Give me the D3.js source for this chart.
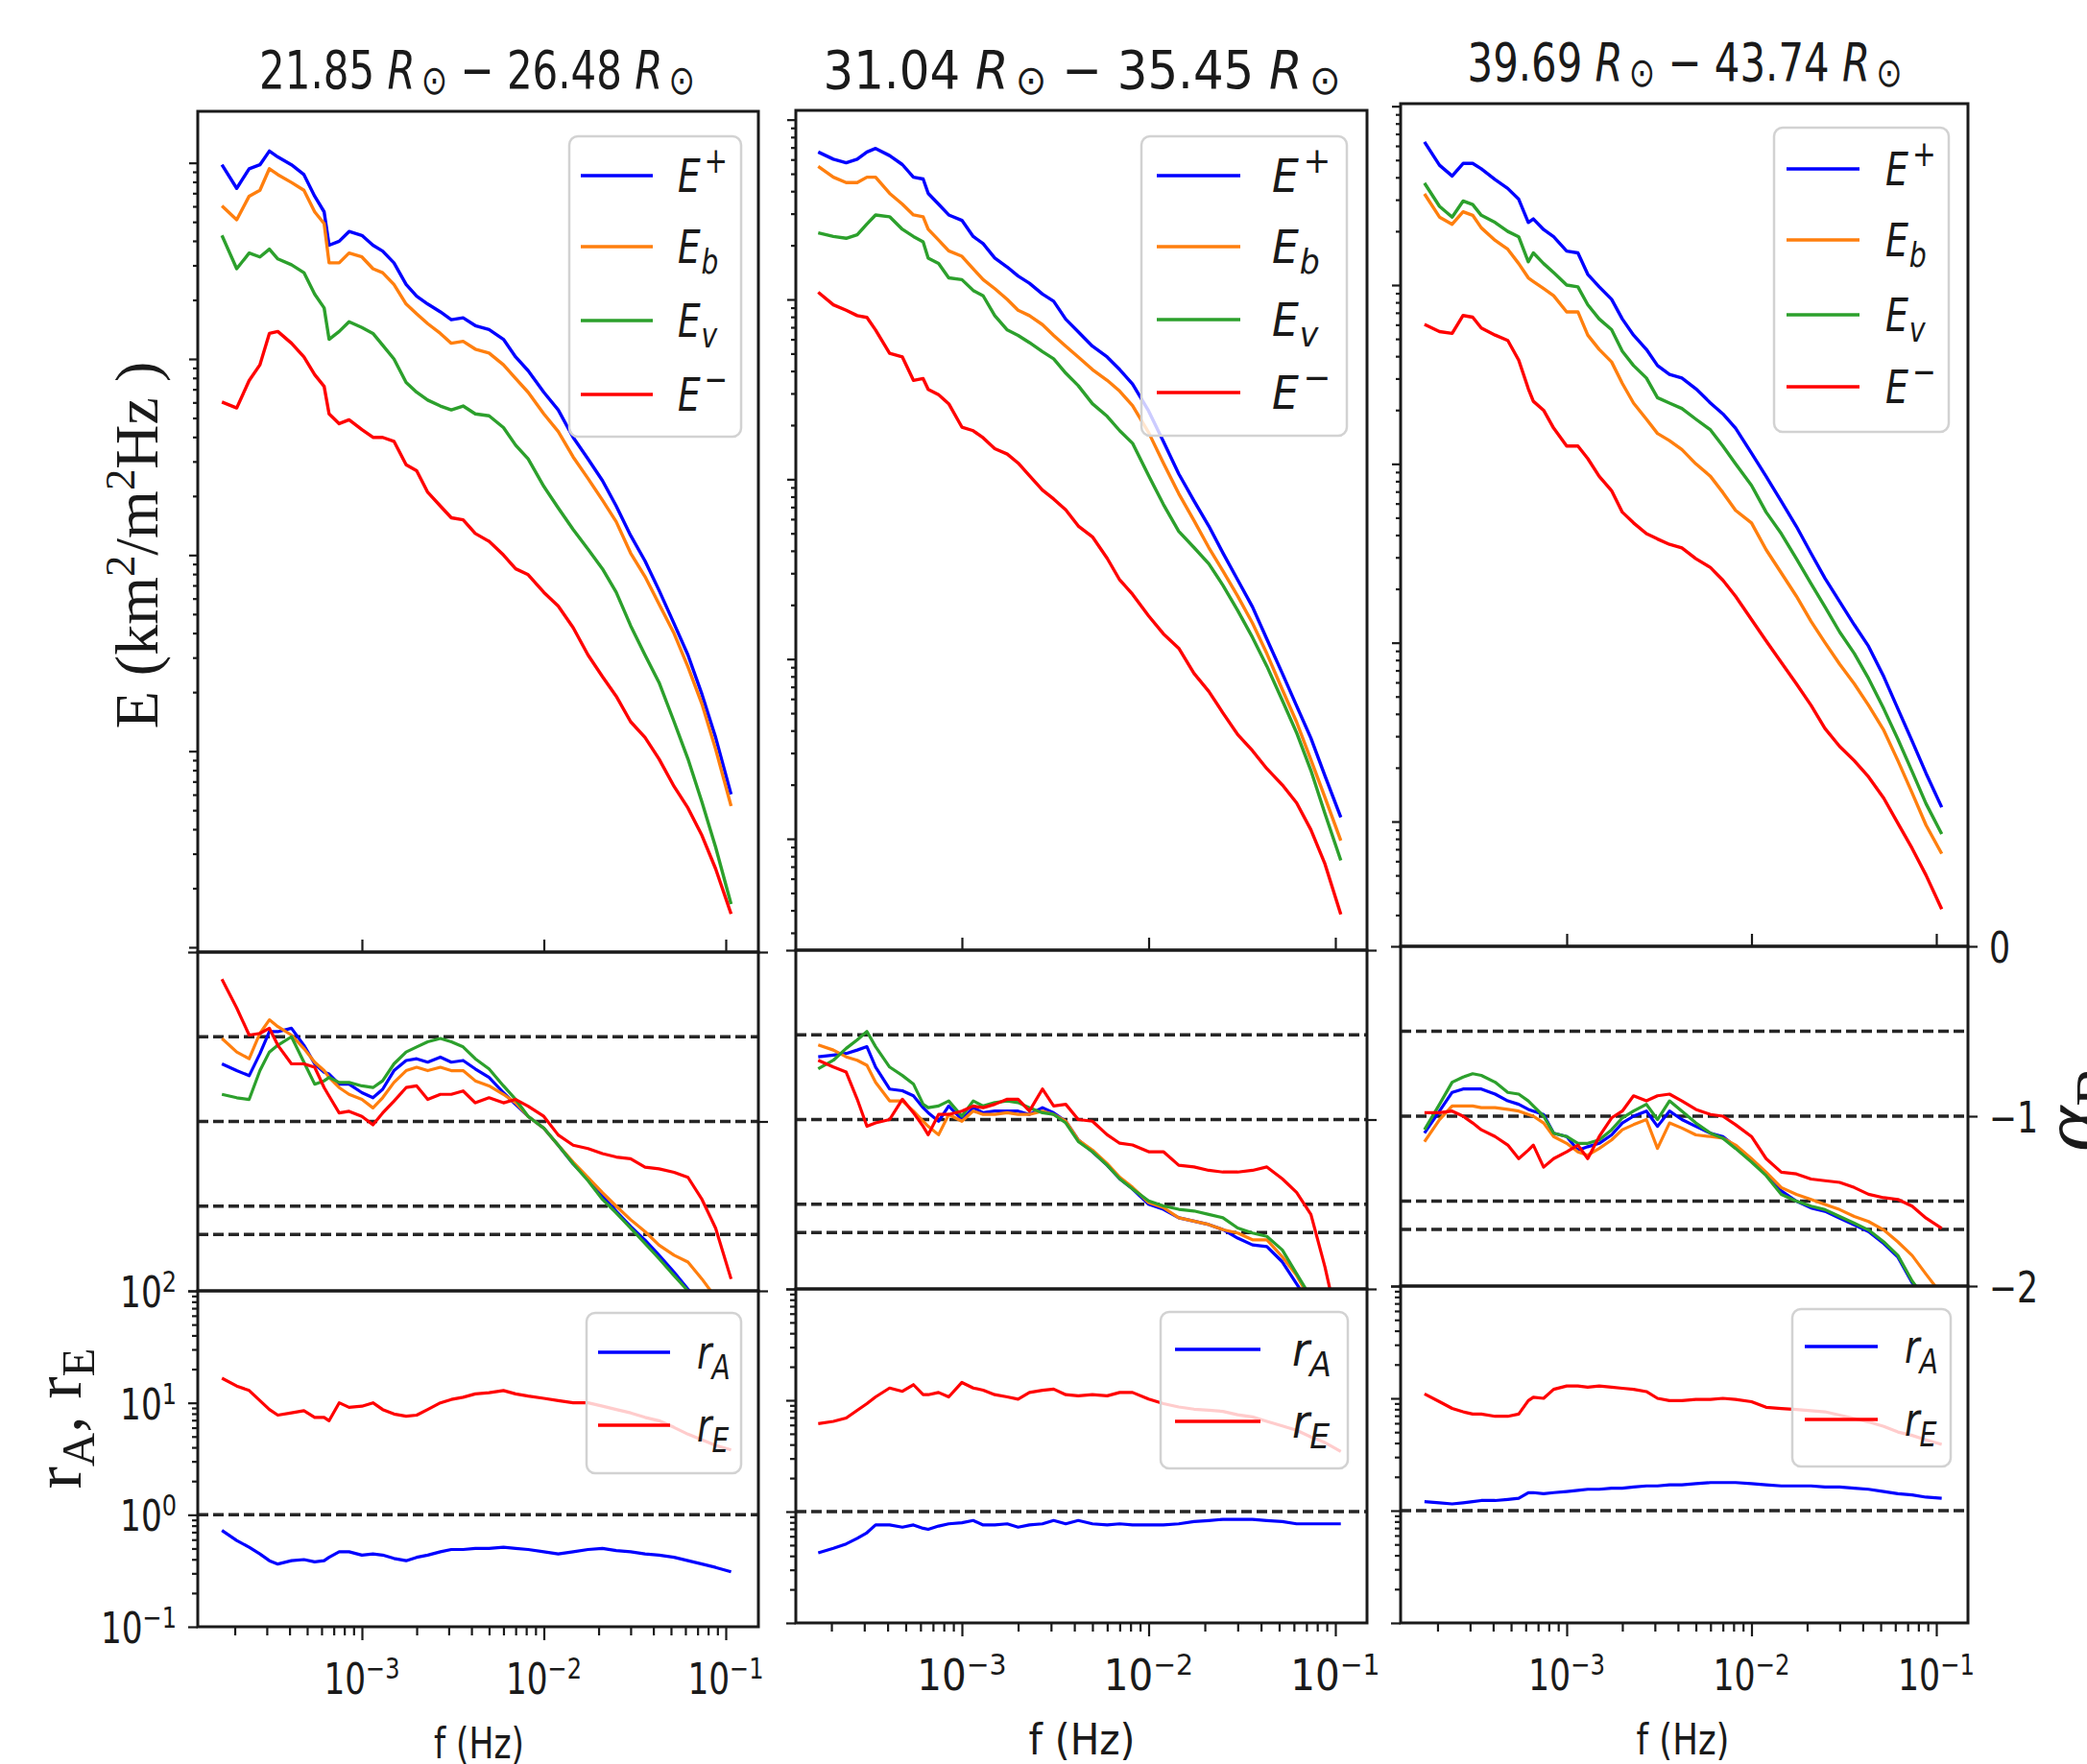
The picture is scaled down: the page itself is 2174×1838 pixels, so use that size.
<!DOCTYPE html>
<html>
<head>
<meta charset="utf-8">
<script src="https://cdn.jsdelivr.net/npm/d3@7"></script>
<style>
  body { margin: 0; background: #fff; }
  svg { display: block; }
</style>
</head>
<body>
<svg id="chart" width="2174" height="1838"></svg>
<script>
// shared frequency grid (Hz)
const freqHz = [
  1.7e-4, 2.05e-4, 2.4e-4, 2.75e-4, 3.1e-4, 3.45e-4, 4.1e-4, 4.8e-4, 5.5e-4, 6.2e-4,
  6.6e-4, 7.5e-4, 8.5e-4, 1e-3, 1.15e-3, 1.3e-3, 1.5e-3, 1.75e-3, 2e-3, 2.3e-3,
  2.7e-3, 3.1e-3, 3.6e-3, 4.2e-3, 5e-3, 6e-3, 7e-3, 8.2e-3, 1e-2, 1.2e-2,
  1.45e-2, 1.75e-2, 2.1e-2, 2.5e-2, 3e-2, 3.6e-2, 4.3e-2, 5.2e-2, 6.2e-2, 7.4e-2,
  8.8e-2, 0.107
]

// spectra, stored as log10 E (decade ticks are unlabelled in the figure)
const ePlus1 = [5.99,5.87,5.97,5.99,6.06,6.03,5.99,5.94,5.83,5.75, 5.58,5.60,5.65,5.63,5.58,5.55,5.49,5.38,5.32,5.28,
  5.24,5.20,5.21,5.17,5.15,5.10,5.01,4.94,4.83,4.74, 4.60,4.49,4.38,4.25,4.10,3.97,3.82,3.65,3.49,3.29, 3.07,2.78]
const eB1 = [5.78,5.71,5.83,5.86,5.97,5.94,5.90,5.86,5.75,5.69, 5.49,5.49,5.54,5.52,5.46,5.44,5.38,5.28,5.23,5.18,
  5.13,5.08,5.09,5.05,5.03,4.97,4.90,4.83,4.72,4.63, 4.50,4.39,4.28,4.17,4.01,3.89,3.75,3.60,3.43,3.24, 3.01,2.72]
const eV1 = [5.63,5.46,5.54,5.52,5.56,5.51,5.48,5.44,5.33,5.26, 5.10,5.14,5.19,5.16,5.13,5.07,5.00,4.88,4.83,4.79,
  4.76,4.74,4.76,4.72,4.71,4.65,4.56,4.49,4.35,4.24, 4.13,4.03,3.93,3.81,3.64,3.49,3.35,3.15,2.96,2.74, 2.51,2.22]
const eMinus1 = [4.78,4.75,4.89,4.97,5.13,5.14,5.08,5.01,4.92,4.86, 4.72,4.67,4.69,4.64,4.60,4.60,4.58,4.46,4.43,4.32,
  4.25,4.19,4.18,4.11,4.07,4.00,3.93,3.90,3.81,3.74, 3.63,3.49,3.38,3.28,3.15,3.07,2.96,2.82,2.71,2.57, 2.40,2.17]

const ePlus2 = [5.82,5.78,5.76,5.78,5.82,5.84,5.80,5.75,5.68,5.67, 5.59,5.53,5.47,5.44,5.35,5.31,5.23,5.18,5.13,5.09,
  5.03,4.99,4.89,4.82,4.74,4.68,4.61,4.53,4.38,4.21, 4.03,3.88,3.74,3.59,3.44,3.29,3.11,2.92,2.74,2.56, 2.35,2.12]
const eB2 = [5.74,5.68,5.65,5.65,5.68,5.68,5.59,5.53,5.47,5.46, 5.39,5.33,5.27,5.24,5.17,5.11,5.06,5.00,4.94,4.91,
  4.86,4.80,4.74,4.68,4.61,4.55,4.49,4.41,4.26,4.09, 3.92,3.77,3.62,3.49,3.35,3.20,3.03,2.83,2.65,2.44, 2.23,1.99]
const eV2 = [5.37,5.35,5.34,5.36,5.42,5.47,5.46,5.39,5.35,5.32, 5.23,5.20,5.12,5.11,5.05,5.02,4.91,4.83,4.80,4.76,
  4.71,4.67,4.59,4.52,4.42,4.35,4.27,4.20,4.02,3.86, 3.71,3.62,3.53,3.41,3.27,3.12,2.96,2.77,2.59,2.38, 2.14,1.88]
const eMinus2 = [5.04,4.97,4.94,4.91,4.90,4.83,4.70,4.68,4.55,4.56, 4.50,4.47,4.42,4.29,4.27,4.23,4.17,4.14,4.09,4.02,
  3.94,3.89,3.83,3.74,3.68,3.56,3.44,3.36,3.24,3.14, 3.06,2.92,2.82,2.70,2.58,2.49,2.39,2.30,2.20,2.05, 1.86,1.58]

const ePlus3 = [5.80,5.67,5.61,5.68,5.68,5.65,5.59,5.54,5.48,5.35, 5.37,5.31,5.27,5.19,5.18,5.06,4.99,4.92,4.81,4.72,
  4.64,4.55,4.50,4.48,4.42,4.34,4.28,4.20,4.06,3.93, 3.79,3.65,3.50,3.36,3.23,3.10,2.98,2.81,2.63,2.45, 2.27,2.08]
const eB3 = [5.51,5.38,5.34,5.41,5.39,5.32,5.25,5.20,5.12,5.04, 5.02,4.98,4.94,4.85,4.85,4.72,4.64,4.57,4.45,4.34,
  4.25,4.17,4.13,4.08,4.00,3.93,3.84,3.74,3.67,3.52, 3.39,3.26,3.12,3.00,2.88,2.77,2.65,2.51,2.34,2.16, 1.98,1.82]
const eV3 = [5.57,5.44,5.38,5.47,5.45,5.39,5.35,5.30,5.27,5.13, 5.18,5.12,5.07,5.00,4.99,4.89,4.81,4.75,4.63,4.55,
  4.48,4.37,4.34,4.31,4.25,4.19,4.10,4.00,3.88,3.73, 3.61,3.47,3.33,3.20,3.06,2.94,2.80,2.63,2.46,2.28, 2.10,1.93]
const eMinus3 = [4.78,4.74,4.73,4.83,4.82,4.76,4.72,4.69,4.58,4.42, 4.35,4.30,4.20,4.10,4.10,4.03,3.93,3.85,3.73,3.67,
  3.61,3.58,3.55,3.53,3.47,3.42,3.35,3.26,3.13,3.01, 2.89,2.77,2.65,2.52,2.42,2.34,2.25,2.13,1.99,1.85, 1.70,1.51]

// local spectral slopes alpha
const aPlus1 = [-0.66,-0.70,-0.73,-0.60,-0.47,-0.47,-0.45,-0.55,-0.66,-0.71, -0.72,-0.78,-0.78,-0.83,-0.86,-0.81,-0.70,-0.64,-0.63,-0.65,
  -0.62,-0.65,-0.64,-0.69,-0.74,-0.83,-0.90,-0.97,-1.04,-1.14, -1.25,-1.34,-1.44,-1.53,-1.62,-1.70,-1.79,-1.89,-1.99,-2.08, -2.17,-2.29]
const aB1 = [-0.51,-0.59,-0.63,-0.48,-0.40,-0.44,-0.49,-0.57,-0.65,-0.70, -0.74,-0.80,-0.84,-0.87,-0.92,-0.86,-0.77,-0.70,-0.68,-0.70,
  -0.68,-0.70,-0.70,-0.76,-0.79,-0.84,-0.89,-0.97,-1.04,-1.14, -1.24,-1.33,-1.42,-1.50,-1.58,-1.65,-1.73,-1.79,-1.83,-1.93, -2.04,-2.16]
const aV1 = [-0.84,-0.86,-0.87,-0.70,-0.59,-0.55,-0.50,-0.65,-0.78,-0.76, -0.74,-0.77,-0.77,-0.79,-0.80,-0.76,-0.66,-0.59,-0.56,-0.53,
  -0.51,-0.53,-0.56,-0.63,-0.69,-0.79,-0.87,-0.97,-1.04,-1.14, -1.25,-1.35,-1.46,-1.54,-1.63,-1.72,-1.81,-1.91,-2.00,-2.10, -2.19,-2.31]
const aMinus1 = [-0.16,-0.33,-0.49,-0.48,-0.45,-0.55,-0.66,-0.66,-0.68,-0.80, -0.85,-0.95,-0.94,-0.97,-1.02,-0.95,-0.88,-0.80,-0.79,-0.87,
  -0.84,-0.84,-0.82,-0.89,-0.86,-0.89,-0.87,-0.91,-0.97,-1.08, -1.14,-1.16,-1.19,-1.21,-1.22,-1.27,-1.28,-1.30,-1.33,-1.46, -1.63,-1.93]

const aPlus2 = [-0.63,-0.62,-0.61,-0.59,-0.57,-0.69,-0.82,-0.83,-0.86,-0.93, -0.96,-1.01,-0.92,-1.00,-0.93,-0.96,-0.95,-0.95,-0.95,-0.97,
  -0.93,-0.96,-1.01,-1.12,-1.19,-1.27,-1.35,-1.41,-1.50,-1.53, -1.58,-1.60,-1.62,-1.65,-1.70,-1.74,-1.75,-1.84,-1.97,-2.10, -2.23,-2.37]
const aB2 = [-0.56,-0.59,-0.63,-0.65,-0.68,-0.78,-0.89,-0.89,-0.95,-1.01, -1.04,-1.09,-0.97,-1.01,-0.95,-0.97,-0.97,-0.96,-0.97,-0.97,
  -0.95,-0.97,-1.01,-1.12,-1.18,-1.26,-1.34,-1.40,-1.49,-1.52, -1.58,-1.60,-1.62,-1.65,-1.67,-1.71,-1.71,-1.81,-1.92,-2.07, -2.21,-2.34]
const aV2 = [-0.70,-0.65,-0.58,-0.53,-0.48,-0.57,-0.69,-0.74,-0.79,-0.91, -0.93,-0.92,-0.89,-0.98,-0.89,-0.92,-0.90,-0.89,-0.90,-0.93,
  -0.96,-0.97,-1.02,-1.13,-1.19,-1.27,-1.35,-1.41,-1.48,-1.51, -1.53,-1.54,-1.56,-1.58,-1.64,-1.67,-1.69,-1.77,-1.91,-2.05, -2.21,-2.34]
const aMinus2 = [-0.65,-0.69,-0.72,-0.88,-1.04,-1.02,-1.00,-0.88,-0.96,-1.04, -1.09,-0.97,-0.97,-0.95,-0.92,-0.93,-0.91,-0.88,-0.88,-0.95,
  -0.82,-0.92,-0.91,-1.00,-1.01,-1.09,-1.14,-1.15,-1.19,-1.19, -1.27,-1.28,-1.30,-1.31,-1.31,-1.30,-1.28,-1.35,-1.43,-1.56, -1.87,-2.29]

const aPlus3 = [-1.10,-0.97,-0.86,-0.84,-0.84,-0.84,-0.87,-0.91,-0.93,-0.96, -0.97,-0.99,-1.10,-1.12,-1.20,-1.18,-1.16,-1.11,-1.04,-1.00,
  -0.97,-1.06,-0.97,-1.02,-1.06,-1.10,-1.12,-1.18,-1.26,-1.34, -1.44,-1.50,-1.54,-1.56,-1.60,-1.64,-1.68,-1.75,-1.83,-1.98, -2.08,-2.20]
const aB3 = [-1.15,-1.02,-0.94,-0.94,-0.94,-0.95,-0.95,-0.96,-0.97,-0.99, -1.00,-1.04,-1.12,-1.16,-1.21,-1.23,-1.19,-1.14,-1.08,-1.05,
  -1.02,-1.19,-1.04,-1.07,-1.11,-1.12,-1.13,-1.17,-1.25,-1.33, -1.42,-1.46,-1.49,-1.52,-1.55,-1.59,-1.62,-1.67,-1.74,-1.82, -1.93,-2.05]
const aV3 = [-1.08,-0.93,-0.80,-0.77,-0.75,-0.76,-0.80,-0.86,-0.87,-0.91, -0.94,-1.00,-1.10,-1.12,-1.16,-1.16,-1.14,-1.08,-1.01,-0.97,
  -0.93,-1.02,-0.91,-0.97,-1.04,-1.10,-1.13,-1.19,-1.27,-1.35, -1.46,-1.50,-1.53,-1.55,-1.59,-1.63,-1.67,-1.74,-1.82,-1.97, -2.08,-2.20]
const aMinus3 = [-0.98,-0.98,-0.97,-1.00,-1.04,-1.08,-1.12,-1.17,-1.25,-1.20, -1.17,-1.30,-1.25,-1.21,-1.17,-1.25,-1.12,-1.01,-0.97,-0.88,
  -0.91,-0.88,-0.87,-0.91,-0.96,-0.99,-1.00,-1.05,-1.12,-1.25, -1.33,-1.34,-1.37,-1.38,-1.39,-1.42,-1.46,-1.48,-1.49,-1.53, -1.60,-1.66]

// Alfven and Elsasser ratios, stored as log10 r
const rA1 = [-0.14,-0.23,-0.29,-0.35,-0.41,-0.44,-0.41,-0.40,-0.42,-0.41, -0.38,-0.33,-0.33,-0.36,-0.35,-0.36,-0.39,-0.41,-0.38,-0.36,
  -0.33,-0.31,-0.31,-0.30,-0.30,-0.29,-0.30,-0.31,-0.33,-0.35, -0.33,-0.31,-0.30,-0.32,-0.33,-0.35,-0.36,-0.38,-0.41,-0.44, -0.47,-0.51]
const rE1 = [1.22,1.15,1.11,1.02,0.94,0.89,0.91,0.93,0.87,0.87, 0.84,1.00,0.96,0.97,1.00,0.94,0.90,0.88,0.89,0.94,
  1.00,1.03,1.05,1.08,1.09,1.11,1.08,1.06,1.04,1.02, 1.00,1.00,0.97,0.94,0.91,0.87,0.84,0.78,0.72,0.67, 0.62,0.58]
const rA2 = [-0.37,-0.33,-0.29,-0.24,-0.19,-0.12,-0.12,-0.14,-0.12,-0.15, -0.16,-0.13,-0.11,-0.10,-0.08,-0.12,-0.12,-0.11,-0.14,-0.12,
  -0.11,-0.08,-0.11,-0.08,-0.11,-0.12,-0.11,-0.12,-0.12,-0.12, -0.11,-0.09,-0.08,-0.07,-0.07,-0.07,-0.08,-0.09,-0.11,-0.11, -0.11,-0.11]
const rE2 = [0.79,0.81,0.84,0.91,0.97,1.03,1.11,1.08,1.14,1.05, 1.05,1.07,1.03,1.16,1.11,1.09,1.05,1.03,1.01,1.07,
  1.09,1.10,1.05,1.04,1.05,1.04,1.07,1.07,1.01,0.97, 0.94,0.92,0.91,0.90,0.87,0.85,0.81,0.77,0.73,0.67, 0.62,0.54]
const rA3 = [0.08,0.07,0.06,0.07,0.08,0.09,0.09,0.10,0.11,0.16, 0.16,0.15,0.16,0.17,0.18,0.19,0.19,0.20,0.20,0.21,
  0.22,0.22,0.23,0.23,0.24,0.25,0.25,0.25,0.24,0.23, 0.22,0.22,0.22,0.21,0.21,0.20,0.19,0.17,0.15,0.14, 0.12,0.11]
const rE3 = [1.04,0.97,0.91,0.88,0.86,0.86,0.84,0.84,0.86,0.98, 1.01,1.00,1.08,1.11,1.11,1.10,1.11,1.10,1.09,1.08,
  1.06,1.00,0.98,0.98,0.99,0.99,1.00,0.99,0.97,0.92, 0.91,0.90,0.89,0.88,0.85,0.82,0.79,0.75,0.70,0.67, 0.63,0.59]

const titles = [['21.85', '26.48'], ['31.04', '35.45'], ['39.69', '43.74']]
const alphaRefs = [-0.5, -1, -1.5, -5 / 3]
const ratioRefs = [1]
const xMajor = [1e-3, 1e-2, 1e-1]
const alphaMajor = [0, -1, -2]
const ratioMajor = [0.1, 1, 10, 100]
const eLegend = [['+', 'sup'], ['b', 'sub'], ['v', 'sub'], ['\u2212', 'sup']]
const rLegend = ['A', 'E']

const columns = [
  { E: [ePlus1, eB1, eV1, eMinus1], A: [aPlus1, aB1, aV1, aMinus1], R: [rA1, rE1] },
  { E: [ePlus2, eB2, eV2, eMinus2], A: [aPlus2, aB2, aV2, aMinus2], R: [rA2, rE2] },
  { E: [ePlus3, eB3, eV3, eMinus3], A: [aPlus3, aB3, aV3, aMinus3], R: [rA3, rE3] }
]

// geometry of the three stacked columns (they are not perfectly aligned in the figure)
const layout = [
  { x0: 206, x1: 790, top: 116, mid: 992, low: 1345, bot: 1695, fx3: 377, fx1: 756, ey5: 374, ey2: 987,
    sx: 0.78, title: [497, 92, 454], xlab: [499, 1832, 94],
    leg: { x: 593, y: 142, w: 179, h: 313, l0: 605, l1: 680, rows: [183, 257, 334, 411], tx: 706 },
    rleg: { x: 611, y: 1368, w: 161, h: 167, l0: 623, l1: 698, rows: [1409, 1485], tx: 726 } },
  { x0: 829, x1: 1424, top: 115, mid: 990, low: 1343, bot: 1691, fx3: 1002, fx1: 1391, ey5: 312, ey2: 874,
    sx: 0.92, title: [1127, 92, 539], xlab: [1127, 1828, 111],
    leg: { x: 1189, y: 142, w: 214, h: 312, l0: 1205, l1: 1292, rows: [183, 257, 333, 409], tx: 1325 },
    rleg: { x: 1209, y: 1367, w: 195, h: 163, l0: 1224, l1: 1313, rows: [1406, 1481], tx: 1346 } },
  { x0: 1459, x1: 2050, top: 108, mid: 986, low: 1340, bot: 1691, fx3: 1632, fx1: 2017, ey5: 297, ey2: 856,
    sx: 0.79, title: [1755, 84, 453], xlab: [1753, 1828, 97],
    leg: { x: 1848, y: 133, w: 182, h: 317, l0: 1861, l1: 1937, rows: [176, 250, 328, 403], tx: 1964 },
    rleg: { x: 1867, y: 1364, w: 165, h: 164, l0: 1880, l1: 1956, rows: [1403, 1479], tx: 1984 } }
]

const INK = '#1a1a1a'
const SANS = '"DejaVu Sans", sans-serif'
const SERIF = '"Liberation Serif", "DejaVu Serif", serif'
const eColors = ['#0000ff', '#ff7f0e', '#2ca02c', '#ff0000']
const rColors = ['#0000ff', '#ff0000']

const svg = d3.select('#chart')
svg.append('rect').attr('width', 2174).attr('height', 1838).attr('fill', '#fff')

// text with mathtext-like super/subscripts
function richText(parent, x, y, parts, o) {
  let tf = `translate(${x},${y}) scale(${o.sx || 1},1)`
  if (o.rotate) tf += ` rotate(${o.rotate})`
  const t = parent.append('g').attr('transform', tf).append('text')
    .attr('font-family', o.family || SANS)
    .attr('font-size', o.size)
    .attr('text-anchor', o.anchor || 'start')
    .attr('fill', INK)
  if (o.italic) t.attr('font-style', 'italic')
  if (o.length) t.attr('textLength', o.length).attr('lengthAdjust', 'spacingAndGlyphs')
  let shift = 0
  parts.forEach(p => {
    const target = p.sup ? -(o.supRaise || 0.38) * o.size : p.sub ? (p.drop || 0.2) * o.size : 0
    const s = t.append('tspan').text(p.t).attr('dy', target - shift)
    if (p.sup || p.sub) s.attr('font-size', o.size * (p.scale || 0.7))
    if (p.italic) s.attr('font-style', 'italic')
    if (p.upright) s.attr('font-style', 'normal')
    if (p.dx) s.attr('dx', p.dx)
    shift = target
  })
  return t
}

function styleTicks(g) {
  g.select('.domain').remove()
  g.selectAll('.tick text').remove()
  g.selectAll('.tick line').attr('stroke', INK).attr('stroke-width', 2.2)
}

function logMinors(lo, hi) {
  const out = []
  for (let k = Math.floor(Math.log10(lo)) - 1; k <= Math.ceil(Math.log10(hi)); k++) {
    for (let m = 2; m <= 9; m++) {
      const v = m * Math.pow(10, k)
      if (v > lo && v < hi) out.push(v)
    }
  }
  return out
}

function powLabel(exp) {
  return [{ t: '10' }, { t: String(exp).replace('-', '\u2212'), sup: true }]
}

function drawColumn(i) {
  const L = layout[i], D = columns[i]
  const x = d3.scaleLog().domain([1e-3, 1e-1]).range([L.fx3, L.fx1])
  const yE = d3.scaleLog().domain([1e2, 1e5]).range([L.ey2, L.ey5])
  const yA = d3.scaleLinear().domain([0, -2]).range([L.mid, L.low])
  const yR = d3.scaleLog().domain([0.1, 100]).range([L.bot, L.low])
  const g = svg.append('g')

  const panels = [['top', L.top, L.mid], ['alpha', L.mid, L.low], ['ratio', L.low, L.bot]]
  panels.forEach(([name, y0, y1]) => {
    g.append('clipPath').attr('id', `clip-${name}-${i}`)
      .append('rect').attr('x', L.x0).attr('y', y0).attr('width', L.x1 - L.x0).attr('height', y1 - y0)
  })

  // spectra
  const lineE = d3.line().x((d, j) => x(freqHz[j])).y(d => yE(Math.pow(10, d)))
  g.append('g').attr('clip-path', `url(#clip-top-${i})`)
    .selectAll('path').data(D.E).join('path')
    .attr('d', lineE).attr('fill', 'none')
    .attr('stroke', (d, k) => eColors[k]).attr('stroke-width', 3.4).attr('stroke-linejoin', 'round')

  // slopes
  const gA = g.append('g').attr('clip-path', `url(#clip-alpha-${i})`)
  gA.selectAll('line.ref').data(alphaRefs).join('line').attr('class', 'ref')
    .attr('x1', L.x0).attr('x2', L.x1).attr('y1', d => yA(d)).attr('y2', d => yA(d))
    .attr('stroke', '#262626').attr('stroke-width', 3.5).attr('stroke-dasharray', '11,5')
  const lineA = d3.line().x((d, j) => x(freqHz[j])).y(d => yA(d))
  gA.selectAll('path').data(D.A).join('path')
    .attr('d', lineA).attr('fill', 'none')
    .attr('stroke', (d, k) => eColors[k]).attr('stroke-width', 3.2).attr('stroke-linejoin', 'round')

  // ratios
  const gR = g.append('g').attr('clip-path', `url(#clip-ratio-${i})`)
  gR.selectAll('line.ref').data(ratioRefs).join('line').attr('class', 'ref')
    .attr('x1', L.x0).attr('x2', L.x1).attr('y1', d => yR(d)).attr('y2', d => yR(d))
    .attr('stroke', '#262626').attr('stroke-width', 3.5).attr('stroke-dasharray', '11,5')
  const lineR = d3.line().x((d, j) => x(freqHz[j])).y(d => yR(Math.pow(10, d)))
  gR.selectAll('path').data(D.R).join('path')
    .attr('d', lineR).attr('fill', 'none')
    .attr('stroke', (d, k) => rColors[k]).attr('stroke-width', 3.2).attr('stroke-linejoin', 'round')

  // legends
  const lg = L.leg
  g.append('rect').attr('x', lg.x).attr('y', lg.y).attr('width', lg.w).attr('height', lg.h).attr('rx', 9)
    .attr('fill', '#fff').attr('fill-opacity', 0.8).attr('stroke', '#d2d2d2').attr('stroke-width', 2.5)
  eLegend.forEach(([s, kind], k) => {
    const yy = lg.rows[k]
    g.append('line').attr('x1', lg.l0).attr('x2', lg.l1).attr('y1', yy).attr('y2', yy)
      .attr('stroke', eColors[k]).attr('stroke-width', 3.4)
    const script = kind === 'sup'
      ? { t: s, sup: true, upright: true, scale: 0.78, dx: 5 }
      : { t: s, sub: true, drop: 0.22, scale: 0.75, dx: 1 }
    richText(g, lg.tx, yy + 17, [{ t: 'E' }, script], { size: 48, italic: true, sx: L.sx, supRaise: 0.42 })
  })
  const rl = L.rleg
  g.append('rect').attr('x', rl.x).attr('y', rl.y).attr('width', rl.w).attr('height', rl.h).attr('rx', 9)
    .attr('fill', '#fff').attr('fill-opacity', 0.8).attr('stroke', '#d2d2d2').attr('stroke-width', 2.5)
  rLegend.forEach((s, k) => {
    const yy = rl.rows[k]
    g.append('line').attr('x1', rl.l0).attr('x2', rl.l1).attr('y1', yy).attr('y2', yy)
      .attr('stroke', rColors[k]).attr('stroke-width', 3.4)
    richText(g, rl.tx, yy + 17, [{ t: 'r' }, { t: s, sub: true, drop: 0.22, scale: 0.75 }],
      { size: 48, italic: true, sx: L.sx })
  })

  // frames
  panels.forEach(([name, y0, y1]) => {
    g.append('rect').attr('x', L.x0).attr('y', y0).attr('width', L.x1 - L.x0).attr('height', y1 - y0)
      .attr('fill', 'none').attr('stroke', INK).attr('stroke-width', 3)
  })

  // ticks: spectrum panel
  const eLo = yE.invert(L.mid), eHi = yE.invert(L.top)
  const eMaj = d3.range(Math.ceil(Math.log10(eLo)), Math.floor(Math.log10(eHi)) + 1).map(k => Math.pow(10, k))
  g.append('g').attr('transform', `translate(${L.x0},0)`)
    .call(d3.axisLeft(yE).tickValues(eMaj).tickSize(9).tickFormat('')).call(styleTicks)
  g.append('g').attr('transform', `translate(${L.x0},0)`)
    .call(d3.axisLeft(yE).tickValues(logMinors(eLo, eHi)).tickSize(5).tickFormat('')).call(styleTicks)
  g.append('g').attr('transform', `translate(0,${L.mid})`)
    .call(d3.axisBottom(x).tickValues(xMajor).tickSizeInner(-13).tickSizeOuter(0).tickFormat('')).call(styleTicks)

  // ticks: slope panel
  g.append('g').attr('transform', `translate(${L.x0},0)`)
    .call(d3.axisLeft(yA).tickValues([0, -2]).tickSize(10).tickFormat('')).call(styleTicks)
  g.append('g').attr('transform', `translate(${L.x1},0)`)
    .call(d3.axisRight(yA).tickValues(alphaMajor).tickSize(10).tickFormat('')).call(styleTicks)

  // ticks: ratio panel
  g.append('g').attr('transform', `translate(${L.x0},0)`)
    .call(d3.axisLeft(yR).tickValues(ratioMajor).tickSize(10).tickFormat('')).call(styleTicks)
  g.append('g').attr('transform', `translate(${L.x0},0)`)
    .call(d3.axisLeft(yR).tickValues(logMinors(0.1, 100)).tickSize(6).tickFormat('')).call(styleTicks)
  const fLo = x.invert(L.x0), fHi = x.invert(L.x1)
  g.append('g').attr('transform', `translate(0,${L.bot})`)
    .call(d3.axisBottom(x).tickValues(xMajor).tickSize(14).tickFormat('')).call(styleTicks)
  g.append('g').attr('transform', `translate(0,${L.bot})`)
    .call(d3.axisBottom(x).tickValues(logMinors(fLo, fHi)).tickSize(9).tickFormat('')).call(styleTicks)

  // x tick labels
  xMajor.forEach(v => {
    richText(g, x(v), L.bot + 70, powLabel(Math.round(Math.log10(v))), { size: 44, anchor: 'middle', sx: L.sx, supRaise: 0.36 })
  })
  richText(g, L.xlab[0], L.xlab[1], [{ t: 'f (Hz)' }], { size: 45, anchor: 'middle', length: L.xlab[2] })

  // title
  const [a, b] = titles[i]
  richText(g, L.title[0], L.title[1], [
    { t: a + ' ' }, { t: 'R', italic: true }, { t: '\u2299', sub: true, scale: 0.78, drop: 0.1, dx: 8 },
    { t: ' \u2212   ' + b + ' ' }, { t: 'R', italic: true }, { t: '\u2299', sub: true, scale: 0.78, drop: 0.1, dx: 8 }
  ], { size: 55, anchor: 'middle', length: L.title[2] })

  return { yA, yR }
}

const scales = layout.map((L, i) => drawColumn(i))

// left labels (first column)
const L0 = layout[0]
ratioMajor.forEach(v => {
  richText(svg, 184, scales[0].yR(v) + 17, powLabel(Math.round(Math.log10(v))), { size: 44, anchor: 'end', sx: L0.sx, supRaise: 0.36 })
})
richText(svg, 164, 568, [{ t: 'E (km' }, { t: '2', sup: true }, { t: '/m' }, { t: '2', sup: true }, { t: 'Hz )' }],
  { size: 64, family: SERIF, anchor: 'middle', rotate: -90 })
richText(svg, 84, 1478, [{ t: 'r' }, { t: 'A', sub: true }, { t: ', r' }, { t: 'E', sub: true }],
  { size: 70, family: SERIF, anchor: 'middle', rotate: -90 })

// right slope axis labels (last column)
const L2 = layout[2]
alphaMajor.forEach(v => {
  richText(svg, 2072, scales[2].yA(v) + 17, [{ t: v === 0 ? '0' : '\u2212' + Math.abs(v) }], { size: 44, sx: L2.sx })
})
richText(svg, 2188, 1200, [{ t: '\u03b1', italic: true }, { t: 'B', sub: true }],
  { size: 90, family: SERIF, rotate: -90 })
</script>
</body>
</html>
